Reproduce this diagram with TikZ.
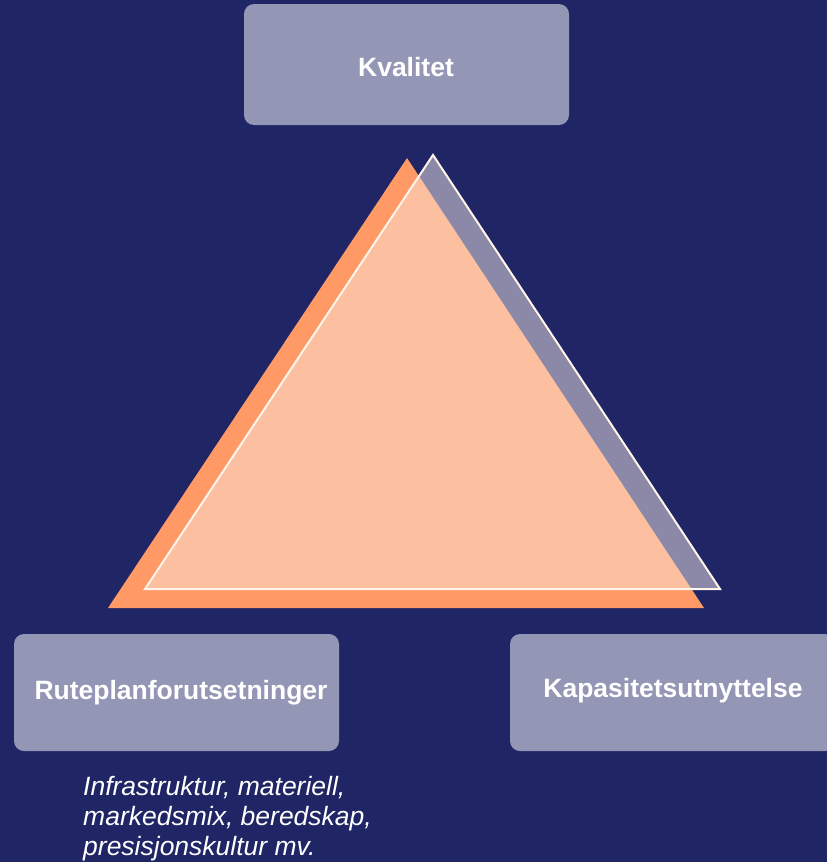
\documentclass[tikz,border=0pt]{standalone}
\usepackage{fontspec}
\setmainfont{Liberation Sans}
\begin{document}
\begin{tikzpicture}[x=1pt,y=-1pt,
  bxstyle/.style={fill=boxc,rounded corners=10pt},
  lbl/.style={text=white,font=\fontsize{26.5}{30}\selectfont\bfseries,inner sep=0pt},
  itl/.style={text=white,font=\fontsize{26.5}{30}\selectfont\itshape,inner sep=0pt,anchor=base west}]
\definecolor{navy}{RGB}{31,37,101}
\definecolor{boxc}{RGB}{147,150,180}
\definecolor{grayt}{RGB}{139,136,168}
\definecolor{orng}{RGB}{255,153,102}
\definecolor{peach}{RGB}{252,191,159}
\useasboundingbox (0,0) rectangle (827,862);
\fill[navy] (0,0) rectangle (827,862);
% boxes
\fill[bxstyle] (244,4) rectangle (569,125);
\fill[bxstyle] (14,634) rectangle (339,751);
\begin{scope}
\clip (0,0) rectangle (827,862);
\fill[bxstyle] (510,634) rectangle (835,751);
\end{scope}
% triangles
\coordinate (oa) at (407,158);
\coordinate (ol) at (108,608);
\coordinate (or) at (704,608);
\coordinate (ga) at (433,155);
\coordinate (gl) at (145,589);
\coordinate (gr) at (720,589);
\fill[orng] (oa) -- (ol) -- (or) -- cycle;
\fill[grayt] (ga) -- (gl) -- (gr) -- cycle;
\begin{scope}
\clip (oa) -- (ol) -- (or) -- cycle;
\fill[peach] (ga) -- (gl) -- (gr) -- cycle;
\end{scope}
\draw[white!92!orange,line width=2pt,line join=miter] (ga) -- (gl) -- (gr) -- cycle;
% labels
\node[lbl] (kval) at (406,67) {Kvalitet};
\node[lbl] (rute) at (181,693) {Ruteplanforutsetninger};
\node[lbl] (kap) at (673,691) {Kapasitetsutnyttelse};
\node[itl] (i1) at (83,795) {Infrastruktur, materiell,};
\node[itl] (i2) at (83,825) {markedsmix, beredskap,};
\node[itl] (i3) at (83,855) {presisjonskultur mv.};
\end{tikzpicture}
\end{document}
